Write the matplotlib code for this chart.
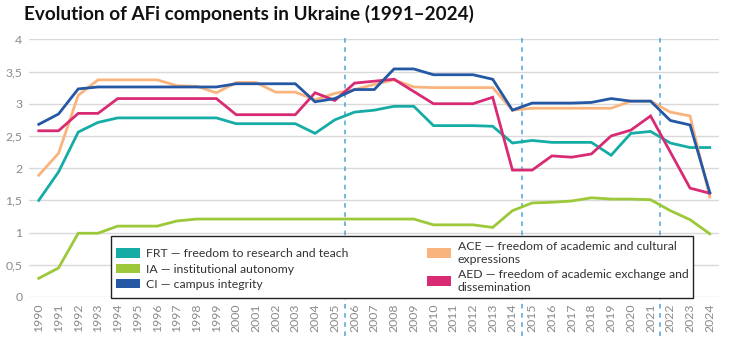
import matplotlib
matplotlib.use('Agg')
import matplotlib.pyplot as plt
from matplotlib.patches import Patch

years = list(range(1990, 2025))

frt = [1.50, 1.94, 2.56, 2.71, 2.78, 2.78, 2.78, 2.78, 2.78, 2.78,
       2.69, 2.69, 2.69, 2.69, 2.54, 2.75, 2.87, 2.90, 2.96, 2.96,
       2.66, 2.66, 2.66, 2.65, 2.39, 2.43, 2.40, 2.40, 2.40, 2.20,
       2.54, 2.57, 2.39, 2.32, 2.32]
ia = [0.29, 0.45, 0.99, 0.99, 1.10, 1.10, 1.10, 1.18, 1.21, 1.21,
      1.21, 1.21, 1.21, 1.21, 1.21, 1.21, 1.21, 1.21, 1.21, 1.21,
      1.12, 1.12, 1.12, 1.08, 1.34, 1.46, 1.47, 1.49, 1.54, 1.52,
      1.52, 1.51, 1.34, 1.20, 0.98]
ci = [2.68, 2.84, 3.23, 3.26, 3.26, 3.26, 3.26, 3.26, 3.26, 3.26,
      3.31, 3.31, 3.31, 3.31, 3.03, 3.08, 3.22, 3.22, 3.54, 3.54,
      3.45, 3.45, 3.45, 3.38, 2.90, 3.01, 3.01, 3.01, 3.02, 3.08,
      3.04, 3.04, 2.74, 2.67, 1.62]
ace = [1.89, 2.23, 3.13, 3.37, 3.37, 3.37, 3.37, 3.28, 3.27, 3.17,
       3.33, 3.33, 3.18, 3.18, 3.06, 3.16, 3.22, 3.30, 3.37, 3.26,
       3.25, 3.25, 3.25, 3.25, 2.90, 2.93, 2.93, 2.93, 2.93, 2.93,
       3.04, 3.04, 2.87, 2.81, 1.55]
aed = [2.58, 2.58, 2.85, 2.85, 3.08, 3.08, 3.08, 3.08, 3.08, 3.08,
       2.83, 2.83, 2.83, 2.83, 3.17, 3.05, 3.32, 3.35, 3.38, 3.19,
       3.00, 3.00, 3.00, 3.10, 1.97, 1.97, 2.19, 2.17, 2.22, 2.50,
       2.59, 2.81, 2.25, 1.69, 1.61]

labels = ['FRT — freedom to research and teach',
          'IA — institutional autonomy',
          'CI — campus integrity',
          'ACE — freedom of academic and cultural\nexpressions',
          'AED — freedom of academic exchange and\ndissemination']
colors = ['#16ACA6', '#9CC83A', '#2457A4', '#F9B47E', '#D92B74']
breaks = [2005.5, 2014.5, 2021.5]

plt.rcParams['font.family'] = ['Lato', 'DejaVu Sans']

fig = plt.figure(figsize=(7.36, 3.4), dpi=100)
ax = fig.add_axes([0.0398, 0.1265, 0.9372, 0.7579])

# draw order: orange under the others
for series, i in [(ia, 1), (frt, 0), (ace, 3), (aed, 4), (ci, 2)]:
    ax.plot(years, series, color=colors[i], lw=2.0, solid_joinstyle='miter', zorder=3)

for b in breaks:
    ax.axvline(b, ymin=-0.152, ymax=1.013, color='#4DA6D6', lw=1.1,
               ls=(0, (3, 3)), clip_on=False, zorder=2)

ax.set_xlim(1989.52, 2024.47)
ax.set_ylim(0, 4)
yt = [0, 0.5, 1, 1.5, 2, 2.5, 3, 3.5, 4]
ax.set_yticks(yt)
ax.set_yticklabels([('%g' % v).replace('.', ',') for v in yt])
ax.set_xticks(years)
ax.set_xticklabels([str(y) for y in years], rotation=90)
ax.tick_params(axis='both', length=0, labelsize=8.8, labelcolor='#8a8a8a')
ax.tick_params(axis='y', pad=5)
ax.tick_params(axis='x', pad=5)
ax.grid(axis='y', color='#d9d9d9', lw=1)
ax.set_axisbelow(True)
for s in ax.spines.values():
    s.set_visible(False)

fig.text(24 / 736, 1 - 20 / 340, 'Evolution of AFi components in Ukraine (1991–2024)',
         fontsize=13.6, fontweight='bold', color='#111111', va='baseline', ha='left')

handles = [Patch(facecolor=c, edgecolor='none') for c in colors]
leg = fig.legend(handles, labels, ncol=2, loc='upper left',
                 bbox_to_anchor=(111 / 736, 1 - 236 / 340),
                 fontsize=8.8, frameon=True, fancybox=False,
                 framealpha=1, edgecolor='#222222', handlelength=2.0,
                 handleheight=0.8, labelspacing=0.35, borderpad=0.4,
                 handletextpad=0.5, columnspacing=6.4, borderaxespad=0)
leg.get_frame().set_linewidth(1.0)
leg.set_zorder(5)
for t in leg.get_texts():
    t.set_color('#333333')

fig.savefig('out.png', dpi=100)
